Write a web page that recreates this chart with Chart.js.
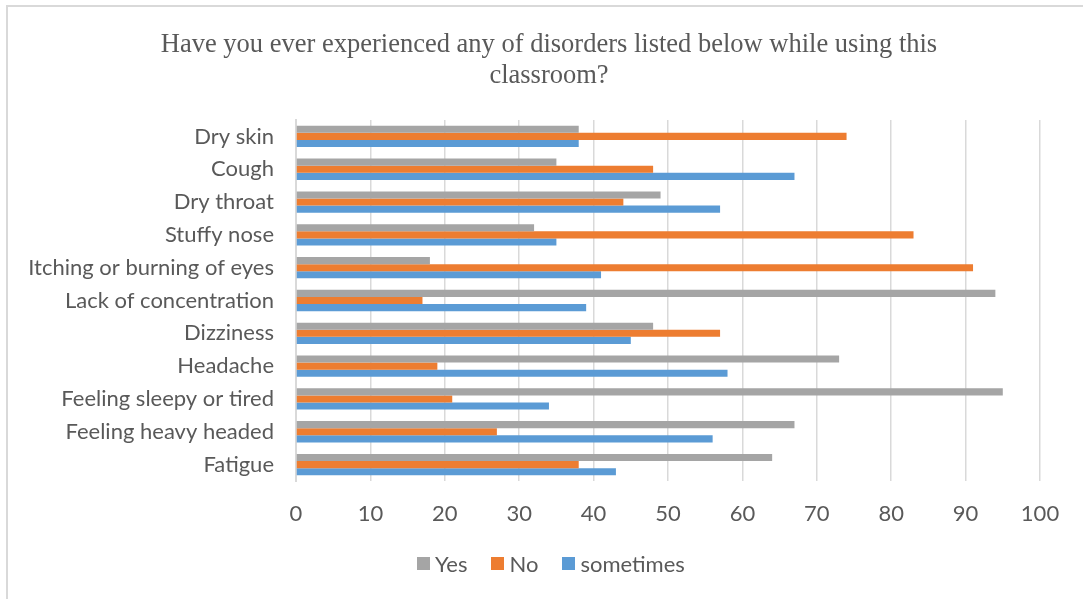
<!DOCTYPE html>
<html>
<head>
<meta charset="utf-8">
<script src="https://cdn.jsdelivr.net/npm/chart.js@4.4.1/dist/chart.umd.min.js"></script>
<style>
    html, body { margin: 0; padding: 0; background: #fff; }
    #wrap { position: relative; width: 1083px; height: 599px; overflow: hidden; }
    #frame {
        position: absolute; left: 6px; top: 5px; right: -10px; bottom: -10px;
        border-left: 2px solid #d9d9d9; border-top: 2px solid #d9d9d9;
    }
    canvas { position: absolute; left: 0; top: 0; }
    #titulo {
        position: absolute; left: 149px; width: 800px; top: 28px;
        text-align: center; line-height: 31px;
        font-family: "Liberation Serif", serif; font-size: 26.5px; color: #595959;
    }
    #leyenda {
        position: absolute; left: 417px; top: 551px; height: 24px;
        display: flex; align-items: center;
        font-family: Lato, sans-serif; font-size: 22px; color: #595959;
    }
    #leyenda .item { display: flex; align-items: center; margin-right: 24px; }
    #leyenda .caja { width: 13px; height: 13px; margin-right: 5px; }
</style>
</head>
<body>
<div id="wrap">
    <div id="frame"></div>
    <canvas id="grafico" width="1083" height="599"></canvas>
    <div id="titulo"></div>
    <div id="leyenda"></div>
</div>
<script>
'use strict';

/* ── Datos ─────────────────────────────────────────────────────────── */
const tituloLineas = [
    'Have you ever experienced any of disorders listed below while using this',
    'classroom?'
];
const categorias = [
    'Dry skin', 'Cough', 'Dry throat', 'Stuffy nose',
    'Itching or burning of eyes', 'Lack of concentration', 'Dizziness',
    'Headache', 'Feeling sleepy or tired', 'Feeling heavy headed', 'Fatigue'
];
const serieYes       = [38, 35, 49, 32, 18, 94, 48, 73, 95, 67, 64];
const serieNo        = [74, 48, 44, 83, 91, 17, 57, 19, 21, 27, 38];
const serieSometimes = [38, 67, 57, 35, 41, 39, 45, 58, 34, 56, 43];
const ticksX         = [0, 10, 20, 30, 40, 50, 60, 70, 80, 90, 100];

const GRIS_TXT = '#595959';
const FUENTE = 'Lato, sans-serif';

const datasets = [
    { label: 'Yes',       data: serieYes,       backgroundColor: '#a5a5a5' },
    { label: 'No',        data: serieNo,        backgroundColor: '#ed7d31' },
    { label: 'sometimes', data: serieSometimes, backgroundColor: '#5b9bd5' }
];

/* ── Título (HTML, centrado en x≈549 como el original) ─────────────── */
const titulo = document.getElementById('titulo');
tituloLineas.forEach(t => {
    const div = document.createElement('div');
    div.textContent = t;
    titulo.appendChild(div);
});

/* ── Gráfico ───────────────────────────────────────────────────────── */
new Chart(document.getElementById('grafico'), {
    type: 'bar',
    data: { labels: categorias, datasets },
    options: {
        indexAxis: 'y',
        responsive: false,
        animation: false,
        categoryPercentage: 0.65,
        barPercentage: 1,
        layout: { padding: { left: 10, right: 43, top: 120, bottom: 58 } },
        plugins: {
            legend: { display: false },
            tooltip: { enabled: false }
        },
        scales: {
            x: {
                min: 0,
                max: 100,
                afterBuildTicks: s => { s.ticks = ticksX.map(v => ({ value: v })); },
                afterFit: s => { s.height = 60; },
                grid: { color: '#d9d9d9', lineWidth: 1.5, drawTicks: false },
                border: { display: false },
                ticks: { color: GRIS_TXT, font: { family: FUENTE, size: 22 }, padding: 20 }
            },
            y: {
                afterFit: s => { s.width = 286; },
                grid: { display: false, drawTicks: false },
                border: { display: true, color: '#d9d9d9', width: 2 },
                ticks: { color: GRIS_TXT, font: { family: FUENTE, size: 22 }, padding: 22 }
            }
        }
    }
});

/* ── Leyenda HTML ──────────────────────────────────────────────────── */
const leyenda = document.getElementById('leyenda');
datasets.forEach(ds => {
    const item = document.createElement('span');
    item.className = 'item';
    const caja = document.createElement('span');
    caja.className = 'caja';
    caja.style.background = ds.backgroundColor;
    item.appendChild(caja);
    item.appendChild(document.createTextNode(ds.label));
    leyenda.appendChild(item);
});
</script>
</body>
</html>
